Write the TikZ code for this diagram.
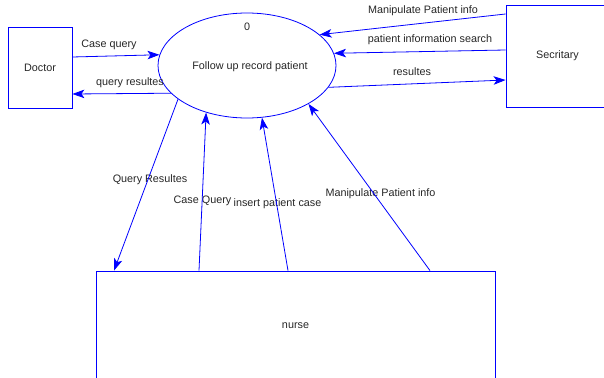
\documentclass[tikz,border=0pt]{standalone}
\usepackage{fontspec}
\setmainfont{Liberation Sans}
\usetikzlibrary{arrows.meta, shapes.geometric}
\begin{document}
\begin{tikzpicture}
[x=1pt, y=-1pt, font=\fontsize{10.8}{13}\selectfont, text=black!85]
\tikzstyle{entity}=[rectangle, draw=blue, line width=0.8pt, inner sep=0pt]
\tikzstyle{process}=[ellipse, draw=blue, line width=0.8pt, minimum width=178pt, minimum height=105pt, inner sep=0pt]
\tikzstyle{flow}=[draw=blue, line width=0.8pt, -{Stealth[length=12pt, width=8.5pt, inset=3pt]}]
\tikzstyle{flowlabel}=[inner sep=1pt]
\clip (0,0) rectangle (604,377);
\useasboundingbox (0,0) rectangle (604,377);

\node[entity, minimum width=64pt, minimum height=81pt]	(doctor)	at (40,67.5) {\raisebox{-2.5pt}{Doctor}};
\node[entity, minimum width=103pt, minimum height=102pt]	(secretary)	at (557.5,56) {Secritary};
\node[entity, minimum width=399pt, minimum height=110pt]	(nurse)	at (295.5,326) {nurse};
\node[process]	(proc)	at (247,65.5) {};
\node	(num)	at (247,27) {0};
\node	(title)	at (250,67) {Follow up record patient};

\node[flowlabel]	(l1)	at (109,45)	{Case query};
\node[flowlabel]	(l2)	at (130,83)	{query resultes};
\node[flowlabel]	(l3)	at (423,11)	{Manipulate Patient info};
\node[flowlabel]	(l4)	at (430,40)	{patient information search};
\node[flowlabel]	(l5)	at (412,72)	{resultes};
\node[flowlabel]	(l6)	at (150,180)	{Query Resultes};
\node[flowlabel]	(l7)	at (202.5,201)	{Case Query};
\node[flowlabel]	(l8)	at (277.5,204)	{insert patient case};
\node[flowlabel]	(l9)	at (380.5,194)	{Manipulate Patient info};

% doctor
\draw[flow] ([yshift=10.5pt]doctor.east) -- (proc.173.8);
\draw[flow] (proc.200.6) -- ([yshift=-26.5pt]doctor.east);

% secretary
\draw[flow] ([yshift=42pt]secretary.west) -- (proc.23.9);
\draw[flow] ([yshift=6pt]secretary.west) -- (proc.8.1);
\draw[flow] (proc.-15.5) -- ([yshift=-24pt]secretary.west);

% nurse
\draw[flow] (proc.206.9) -- ([xshift=-181.5pt]nurse.north);
\draw[flow] ([xshift=-96.5pt]nurse.north) -- (proc.229.2);
\draw[flow] ([xshift=-7.5pt]nurse.north) -- (proc.286);
\draw[flow] ([xshift=134.5pt]nurse.north) -- (proc.328.7);

\end{tikzpicture}
\end{document}
